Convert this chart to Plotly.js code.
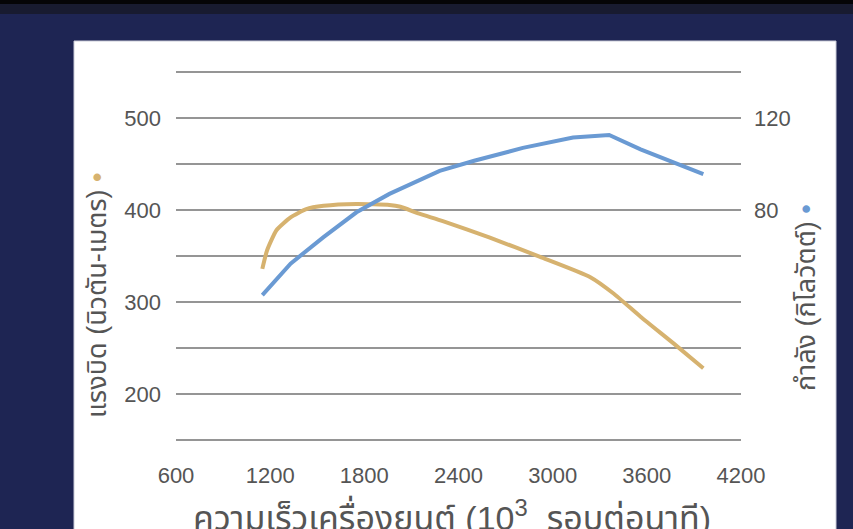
<!DOCTYPE html>
<html>
<head>
<meta charset="utf-8">
<script src="https://cdn.plot.ly/plotly-3.0.1.min.js"></script>
<style>
html,body{margin:0;padding:0;background:#1E2553;}
#chart{width:853px;height:529px;}
</style>
</head>
<body>
<div id="chart"></div>
<script>
// Torque curve (N·m) vs engine speed (rpm)
const torqueRpm = [1150, 1180, 1240, 1330, 1430, 1540, 1750, 1960, 2030, 2150, 2300, 2600, 2920, 3240, 3390, 3560, 3770, 3960];
const torqueVal = [336, 356, 378, 392, 401, 404.5, 406.5, 405.5, 403.5, 396, 388, 370, 349, 327, 309, 284, 255, 228];

// Power curve (kW) vs engine speed (rpm)
const powerRpm = [1150, 1330, 1540, 1750, 1960, 2150, 2280, 2500, 2810, 3130, 3360, 3560, 3960];
const powerVal = [43, 56.7, 68.2, 79, 87, 92.7, 97, 101.4, 107, 111.5, 112.6, 106.4, 95.6];

// Axis ticks
const xTicks = [600, 1200, 1800, 2400, 3000, 3600, 4200];
const leftTickVals = [150, 200, 250, 300, 350, 400, 450, 500, 550];
const leftTickText = ['', '200', '', '300', '', '400', '', '500', ''];
const rightTickVals = [80, 120];

const torqueColor = '#D6B26F';
const powerColor = '#6A9AD3';
const FONT = 'Liberation Sans, Arial, Helvetica, sans-serif';
const THAI = 'Liberation Sans, Noto Sans Thai, Loma, Garuda, Tlwg Typo, sans-serif';

// plot area in pixels (y range padded by ~1 unit so edge gridlines show)
const L = 176, R = 741, T = 71, B = 441;
const px = x => (x - L) / (R - L);
const py = y => (B - y) / (B - T);

const traces = [
  {x: torqueRpm, y: torqueVal, type: 'scatter', mode: 'lines', yaxis: 'y',
   line: {color: torqueColor, width: 4, shape: 'spline', smoothing: 0.5}, hoverinfo: 'skip'},
  {x: powerRpm, y: powerVal, type: 'scatter', mode: 'lines', yaxis: 'y2',
   line: {color: powerColor, width: 4, shape: 'linear'}, hoverinfo: 'skip'}
];

const layout = {
  width: 853, height: 529,
  margin: {l: L, r: 853 - R, t: T, b: 529 - B, pad: 0},
  paper_bgcolor: '#1E2553',
  plot_bgcolor: 'rgba(0,0,0,0)',
  showlegend: false,
  font: {family: FONT, color: '#555'},
  xaxis: {
    range: [600, 4200], tickvals: xTicks, ticktext: xTicks.map(String),
    showgrid: false, zeroline: false, showline: false, ticks: '',
    ticklabelstandoff: 19,
    tickfont: {family: FONT, size: 22, color: '#555'}
  },
  yaxis: {
    range: [148.9, 551.1], tickvals: leftTickVals, ticktext: leftTickText,
    showgrid: true, gridcolor: '#959595', gridwidth: 2,
    zeroline: false, showline: false, ticks: '',
    ticklabelstandoff: 14,
    tickfont: {family: FONT, size: 22, color: '#555'}
  },
  yaxis2: {
    range: [-20.44, 140.44], overlaying: 'y', side: 'right',
    tickvals: rightTickVals, ticktext: rightTickVals.map(String),
    showgrid: false, zeroline: false, showline: false, ticks: '',
    ticklabelstandoff: 12,
    tickfont: {family: FONT, size: 22, color: '#555'}
  },
  shapes: [
    {type: 'rect', xref: 'paper', yref: 'paper', layer: 'below',
     x0: px(74), x1: px(836), y0: py(560), y1: py(41),
     fillcolor: '#ffffff', line: {color: '#c9cbd8', width: 1}},
    {type: 'rect', xref: 'paper', yref: 'paper', layer: 'below',
     x0: px(-5), x1: px(860), y0: py(14), y1: py(-5),
     fillcolor: '#181b30', line: {width: 0}},
    {type: 'rect', xref: 'paper', yref: 'paper', layer: 'below',
     x0: px(-5), x1: px(860), y0: py(4), y1: py(-5),
     fillcolor: '#050507', line: {width: 0}}
  ],
  annotations: [
    {xref: 'paper', yref: 'paper', x: px(97), y: py(295), textangle: -90,
     xanchor: 'center', yanchor: 'middle', showarrow: false,
     text: 'แรงบิด (นิวตัน-เมตร) <span style="color:' + torqueColor + '">•</span>',
     font: {family: THAI, size: 27, color: '#555'}},
    {xref: 'paper', yref: 'paper', x: px(806), y: py(298), textangle: -90,
     xanchor: 'center', yanchor: 'middle', showarrow: false,
     text: 'กำลัง (กิโลวัตต์) <span style="color:' + powerColor + '">•</span>',
     font: {family: THAI, size: 27, color: '#555'}},
    {xref: 'paper', yref: 'paper', x: px(452), y: py(492),
     xanchor: 'center', yanchor: 'top', showarrow: false,
     text: 'ความเร็วเครื่องยนต์ (10<sup>3</sup>  รอบต่อนาที)',
     font: {family: THAI, size: 34, color: '#555'}}
  ]
};

Plotly.newPlot('chart', traces, layout, {staticPlot: true, displayModeBar: false});
</script>
</body>
</html>
